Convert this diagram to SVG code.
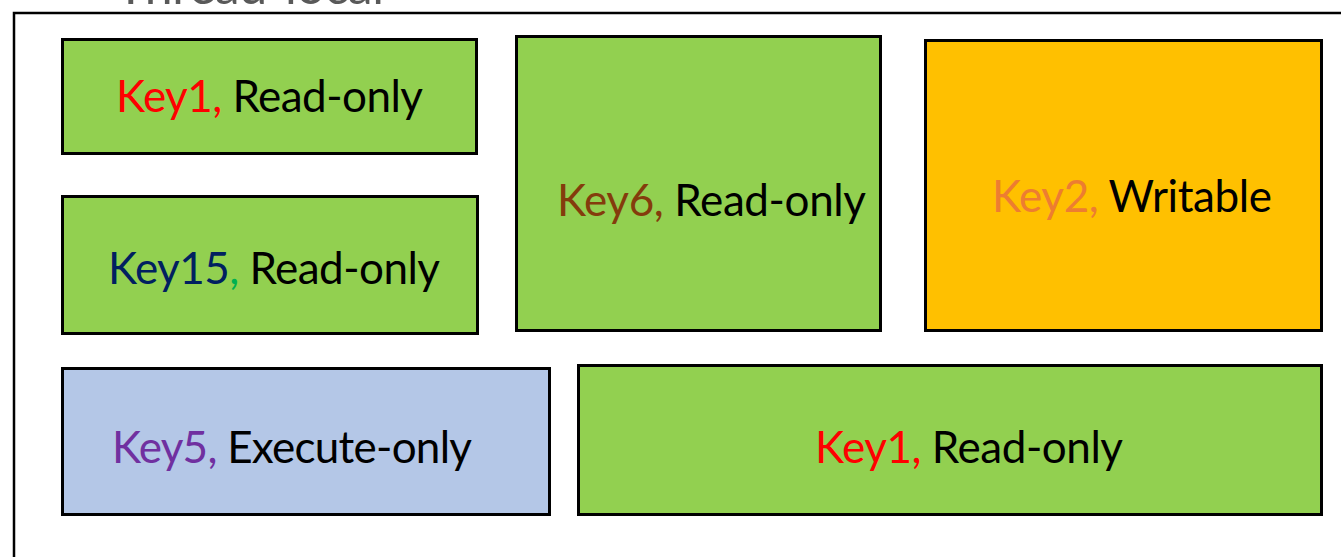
<svg xmlns="http://www.w3.org/2000/svg" width="1341" height="557" viewBox="0 0 1341 557">
  <style>
    .box { stroke: #000; stroke-width: 3; }
    .green { fill: #92D050; }
    .orange { fill: #FFC000; }
    .blue { fill: #B4C7E7; }
    .lbl { font-family: Lato, "Open Sans", "Liberation Sans", sans-serif; font-size: 44px; fill: #000; }
    .title { font-family: Lato, "Open Sans", "Liberation Sans", sans-serif; font-size: 50px; fill: #595959; }
    .frame { fill: none; stroke: #000; stroke-width: 2.5; }
  </style>
  <rect width="1341" height="557" fill="#fff"/>

  <!-- thread-local region -->
  <g id="region">
    <text class="title" x="116" y="4" textLength="268" lengthAdjust="spacing">Thread-local</text>
    <rect class="frame" x="14" y="13" width="1400" height="600"/>
  </g>

  <g id="key1-top">
    <rect class="box green" x="62.5" y="39.5" width="414" height="114"/>
    <text class="lbl" x="116" y="112" textLength="307" lengthAdjust="spacing"><tspan fill="#FF0000">Key1,</tspan> Read-only</text>
  </g>

  <g id="key15">
    <rect class="box green" x="62.5" y="196.5" width="415" height="137"/>
    <text class="lbl" x="108" y="284" textLength="332" lengthAdjust="spacing"><tspan fill="#002060">Key15</tspan><tspan fill="#00B050">,</tspan> Read-only</text>
  </g>

  <g id="key6">
    <rect class="box green" x="516.5" y="36.5" width="364" height="294"/>
    <text class="lbl" x="557" y="216" textLength="309" lengthAdjust="spacing"><tspan fill="#843C0C">Key6,</tspan> Read-only</text>
  </g>

  <g id="key2">
    <rect class="box orange" x="925.5" y="40.5" width="396" height="290"/>
    <text class="lbl" x="992" y="212" textLength="280" lengthAdjust="spacing"><tspan fill="#ED7D31">Key2,</tspan> Writable</text>
  </g>

  <g id="key5">
    <rect class="box blue" x="62.5" y="368.5" width="487" height="146"/>
    <text class="lbl" x="112" y="463" textLength="360" lengthAdjust="spacing"><tspan fill="#7030A0">Key5,</tspan> Execute-only</text>
  </g>

  <g id="key1-bottom">
    <rect class="box green" x="578.5" y="365.5" width="743" height="149"/>
    <text class="lbl" x="815" y="463" textLength="308" lengthAdjust="spacing"><tspan fill="#FF0000">Key1,</tspan> Read-only</text>
  </g>

  <g id="connectors"></g>
</svg>
